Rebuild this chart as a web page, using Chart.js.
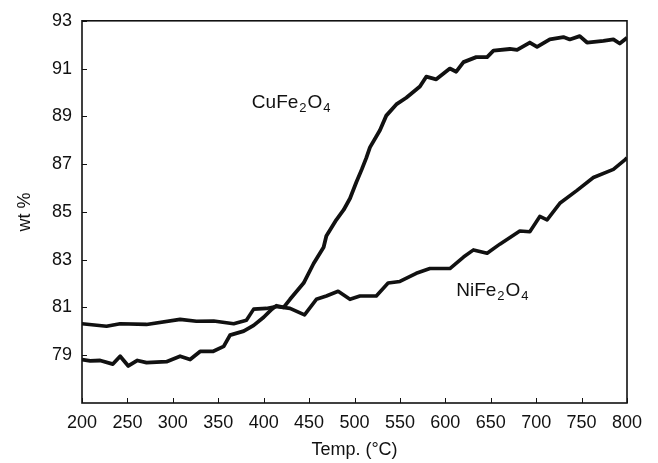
<!DOCTYPE html>
<html><head><meta charset="utf-8">
<script src="https://cdn.jsdelivr.net/npm/chart.js@4.4.1/dist/chart.umd.min.js"></script>
<style>html,body{margin:0;padding:0;background:#fff;}</style>
</head><body>
<canvas id="c" width="658" height="463"></canvas>
<script>
// ---- data ----
const xTicks = [200,250,300,350,400,450,500,550,600,650,700,750,800];
const yTicks = [79,81,83,85,87,89,91,93];

const tempCu = [200,209,220,234,242,251,261,271,293,308,319,330,344,356,363,378,389,400,409,414,422,429,444,455,466,469,480,488,495,502,508,513,517,528,535,546,557,572,579,590,605,612,620,634,646,653,671,679,693,701,715,730,737,748,756,774,785,792,800];
const wtCu   = [78.82,78.76,78.78,78.63,78.96,78.55,78.78,78.69,78.73,78.96,78.82,79.16,79.16,79.37,79.84,80.01,80.25,80.59,80.93,81.07,81.00,81.34,82.02,82.84,83.52,83.99,84.67,85.08,85.56,86.24,86.78,87.26,87.70,88.42,89.03,89.50,89.78,90.25,90.66,90.55,91.00,90.87,91.27,91.48,91.48,91.75,91.82,91.78,92.09,91.91,92.22,92.32,92.22,92.36,92.09,92.16,92.22,92.05,92.29];

const tempNi = [200,227,242,271,308,326,345,367,381,389,403,414,429,445,458,469,482,495,506,524,537,550,568,583,605,620,631,646,660,682,693,704,712,726,745,763,785,798,800];
const wtNi   = [80.32,80.21,80.32,80.29,80.50,80.42,80.43,80.32,80.46,80.93,80.96,81.04,80.96,80.69,81.34,81.48,81.68,81.34,81.48,81.48,82.02,82.09,82.43,82.63,82.63,83.11,83.41,83.27,83.65,84.20,84.17,84.81,84.67,85.36,85.90,86.44,86.78,87.19,87.26];

// label anchors (data coordinates) and names
const labelCu = {base:'CuFe', sub1:'2', mid:'O', sub2:'4', x:387, y:89.37};
const labelNi = {base:'NiFe', sub1:'2', mid:'O', sub2:'4', x:612, y:81.49};

const FONT = '"Liberation Sans", Arial, Helvetica, sans-serif';
const INK = '#111';

function pts(xs, ys){ return xs.map((x,i)=>({x:x, y:ys[i]})); }

const decor = {
  id:'decor',
  afterDraw(chart){
    const {ctx, chartArea:a, scales:{x, y}} = chart;
    ctx.save();
    // frame
    ctx.strokeStyle = INK; ctx.lineWidth = 1.6;
    ctx.strokeRect(a.left, a.top, a.right-a.left, a.bottom-a.top);
    // inward ticks
    ctx.lineWidth = 1;
    xTicks.forEach(v=>{ const px = Math.round(x.getPixelForValue(v))+0.5;
      ctx.beginPath(); ctx.moveTo(px, a.bottom); ctx.lineTo(px, a.bottom-5); ctx.stroke(); });
    yTicks.forEach(v=>{ const py = Math.round(y.getPixelForValue(v))+0.5;
      ctx.beginPath(); ctx.moveTo(a.left, py); ctx.lineTo(a.left+5, py); ctx.stroke(); });
    // series labels with subscripts
    function lab(L){
      let px = x.getPixelForValue(L.x), py = y.getPixelForValue(L.y);
      ctx.fillStyle = INK; ctx.textBaseline = 'alphabetic'; ctx.textAlign = 'left';
      ctx.font = '19px ' + FONT; ctx.fillText(L.base, px, py); px += ctx.measureText(L.base).width + 1;
      ctx.font = '13px ' + FONT; ctx.fillText(L.sub1, px, py+4); px += ctx.measureText(L.sub1).width + 1;
      ctx.font = '19px ' + FONT; ctx.fillText(L.mid, px, py); px += ctx.measureText(L.mid).width + 1;
      ctx.font = '13px ' + FONT; ctx.fillText(L.sub2, px, py+4);
    }
    lab(labelCu); lab(labelNi);
    ctx.restore();
  }
};

new Chart(document.getElementById('c'), {
  type:'line',
  data:{ datasets:[
    {label:'CuFe2O4', data:pts(tempCu, wtCu), borderColor:INK, borderWidth:3.8, pointRadius:0, tension:0, fill:false, borderJoinStyle:'round'},
    {label:'NiFe2O4', data:pts(tempNi, wtNi), borderColor:INK, borderWidth:3.6, pointRadius:0, tension:0, fill:false, borderJoinStyle:'round'}
  ]},
  options:{
    responsive:false, animation:false, devicePixelRatio:1,
    layout:{padding:{left:0, top:11, right:31, bottom:0}},
    plugins:{legend:{display:false}, tooltip:{enabled:false}},
    scales:{
      x:{type:'linear', min:200, max:800,
        afterBuildTicks(s){ s.ticks = xTicks.map(v=>({value:v})); },
        afterFit(s){ s.height = 60; },
        grid:{display:false, drawTicks:false}, border:{display:false},
        ticks:{font:{family:FONT, size:18}, color:INK, padding:9, maxRotation:0, autoSkip:false},
        title:{display:true, text:'Temp. (°C)', font:{family:FONT, size:18}, color:INK, padding:{top:0,bottom:2}}
      },
      y:{type:'linear', min:77, max:93,
        afterBuildTicks(s){ s.ticks = yTicks.map(v=>({value:v})); },
        afterFit(s){ s.width = 82; },
        grid:{display:false, drawTicks:false}, border:{display:false},
        ticks:{font:{family:FONT, size:18}, color:INK, padding:10},
        title:{display:true, text:'wt %', font:{family:FONT, size:18}, color:INK, padding:{top:14,bottom:0}}
      }
    }
  },
  plugins:[decor]
});
</script>
</body></html>
